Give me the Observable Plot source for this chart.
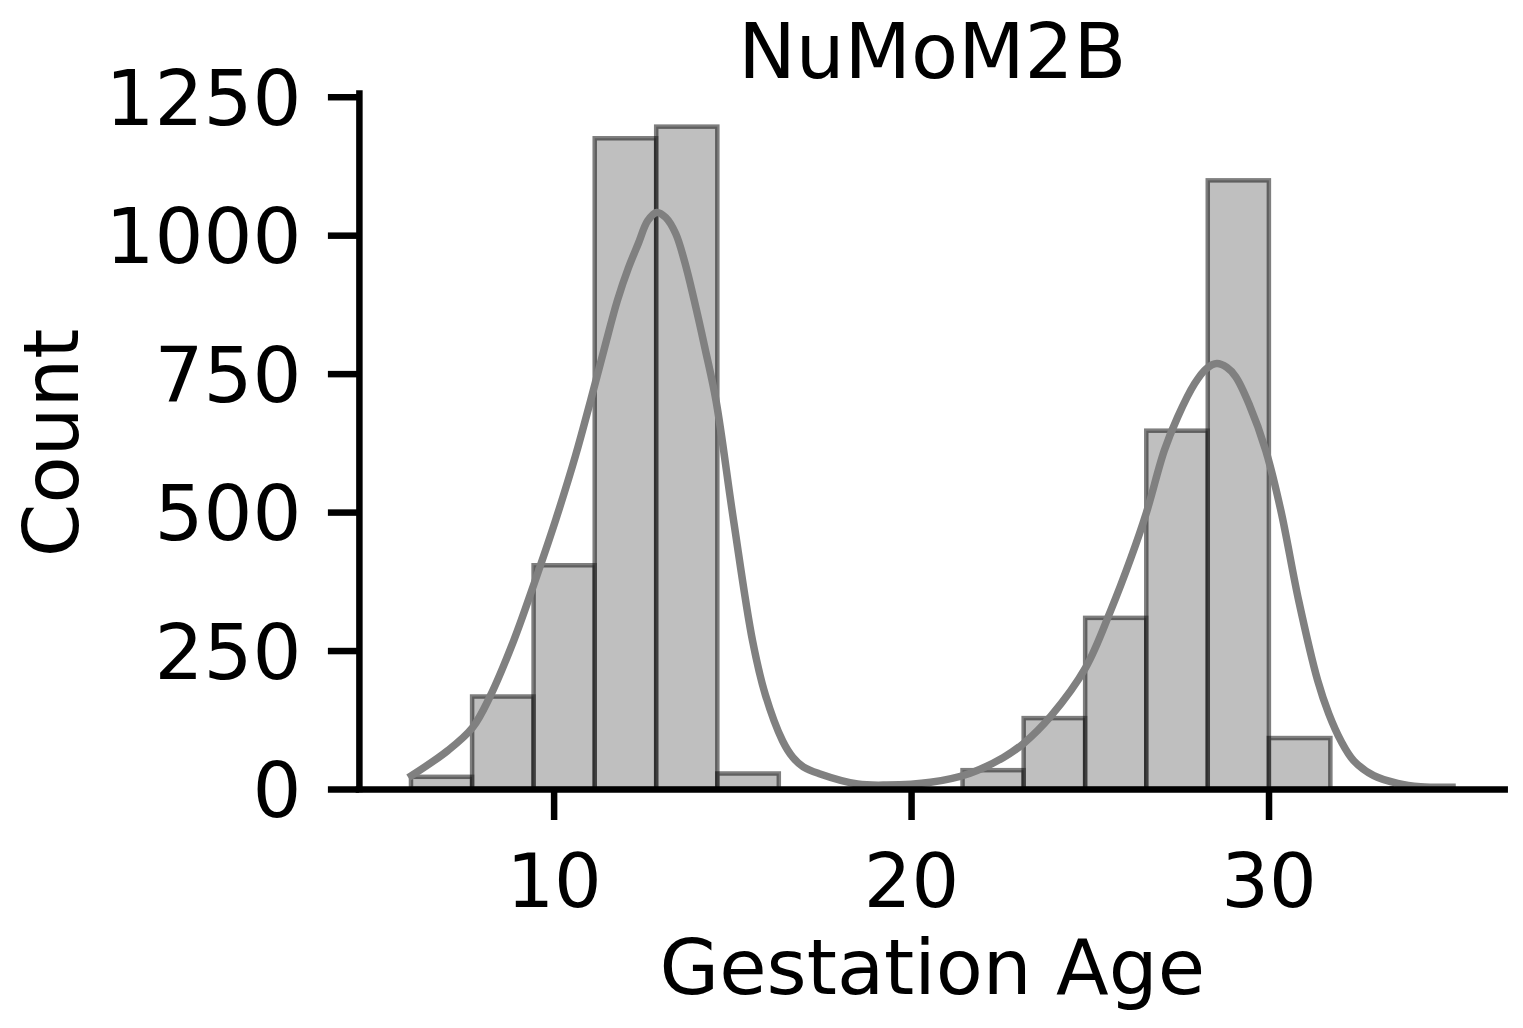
<!DOCTYPE html>
<html>
<head>
<meta charset="utf-8">
<script src="https://cdn.jsdelivr.net/npm/d3@7"></script>
<script src="https://cdn.jsdelivr.net/npm/@observablehq/plot@0.6"></script>
<style>
  html, body { margin: 0; padding: 0; background: white; overflow: hidden; }
  #chart svg { display: block; }
</style>
</head>
<body>
<div id="chart"></div>
<script>
// ---- Data ----
const titleText = "NuMoM2B";
const xLabel = "Gestation Age";
const yLabel = "Count";

// histogram bin edges (Gestation Age)
const binEdges = [6.01, 7.72, 9.44, 11.15, 12.87, 14.58, 16.30, 18.01, 19.73, 21.44,
                  23.15, 24.87, 26.58, 28.30, 30.01, 31.73, 33.44, 35.15];
// counts per bin
const counts = [22, 167, 404, 1175, 1196, 28, 0, 0, 0, 34, 128, 309, 647, 1099, 92, 1, 1];

// KDE curve points
const kdeX = [6.01, 7.02, 7.72, 8.20, 8.87, 9.42, 10.04, 10.60, 11.02, 11.40, 11.77, 12.08, 12.35, 12.62, 12.87,
              13.12, 13.40, 13.66, 13.92, 14.22, 14.53, 15.02, 15.55, 15.91, 16.39, 16.68, 16.97, 17.40, 18.49,
              19.30, 20.53, 21.62, 22.57, 23.13, 23.89, 24.87, 25.57, 26.13, 26.57,
              27.07, 27.44, 27.92, 28.25, 28.54, 28.82, 29.07, 29.44, 29.91, 30.33, 30.83, 31.36,
              31.67, 32.01, 32.37, 32.93, 33.60, 34.24, 35.12];
const kdeY = [25, 70, 112, 167, 269, 368, 486, 603, 702, 795, 883, 942, 985, 1027, 1042,
              1033, 1004, 951, 883, 797, 702, 486, 269, 171, 88, 58, 41, 29, 10,
              8, 13, 29, 58, 83, 132, 220, 323, 417, 500,
              612, 672, 733, 760, 769, 762, 745, 696, 612, 504, 341, 197,
              137, 88, 52, 25, 11, 5, 4];

const xTicks = [10, 20, 30];
const yTicks = [0, 250, 500, 750, 1000, 1250];
const xDomain = [4.553, 36.607];
const yDomain = [0, 1256];

// ---- Build tables ----
const bins = counts.map((c, i) => ({x1: binEdges[i], x2: binEdges[i + 1], count: c}));
const kde = kdeX.map((x, i) => ({x, y: kdeY[i]}));

const FONT = "DejaVu Sans";
const LW = 6.5;

const chart = Plot.plot({
  width: 1523,
  height: 1028,
  marginLeft: 358.9,
  marginRight: 18.3,
  marginTop: 93.4,
  marginBottom: 239,
  style: {fontFamily: FONT, background: "white", color: "black"},
  x: {domain: xDomain, label: null},
  y: {domain: yDomain, label: null},
  marks: [
    Plot.rectY(bins, {
      x1: "x1", x2: "x2", y: "count",
      fill: "gray", fillOpacity: 0.5,
      stroke: "black", strokeOpacity: 0.5, strokeWidth: 4.5
    }),
    Plot.line(kde, {
      x: "x", y: "y", stroke: "#808080", strokeWidth: 7.5,
      curve: "catmull-rom", strokeLinecap: "square", strokeLinejoin: "round"
    }),
    // spines
    Plot.ruleY([yDomain[0]], {x1: xDomain[0], x2: xDomain[1], stroke: "black", strokeWidth: LW, strokeLinecap: "square"}),
    Plot.ruleX([xDomain[0]], {y1: yDomain[0], y2: yDomain[1], stroke: "black", strokeWidth: LW, strokeLinecap: "square"}),
    // ticks
    Plot.axisX({ticks: xTicks, tickSize: 31, tickFormat: () => "", label: null, strokeWidth: LW}),
    Plot.axisY({ticks: yTicks, tickSize: 31, tickFormat: () => "", label: null, strokeWidth: LW}),
    // tick labels
    Plot.axisX({ticks: xTicks, tickSize: 0, tickPadding: 64.5, tickFormat: d => String(d),
      fontSize: 75, fontFamily: FONT, label: null}),
    Plot.axisY({ticks: yTicks, tickSize: 0, tickPadding: 58, dy: 3, tickFormat: d => String(d),
      fontSize: 77, fontFamily: FONT, label: null}),
    // title & axis labels
    Plot.text([titleText], {text: d => d, frameAnchor: "top", dy: -16.1, lineAnchor: "bottom",
      fontSize: 77, fontFamily: FONT, fill: "black"}),
    Plot.text([xLabel], {text: d => d, frameAnchor: "bottom", dy: 204.3, lineAnchor: "bottom",
      fontSize: 77, fontFamily: FONT, fill: "black"}),
    Plot.text([yLabel], {text: d => d, frameAnchor: "left", dx: -281.6, dy: 1.2, rotate: -90,
      lineAnchor: "bottom", textAnchor: "middle", fontSize: 77, fontFamily: FONT, fill: "black"})
  ]
});
document.getElementById("chart").appendChild(chart);
</script>
</body>
</html>
